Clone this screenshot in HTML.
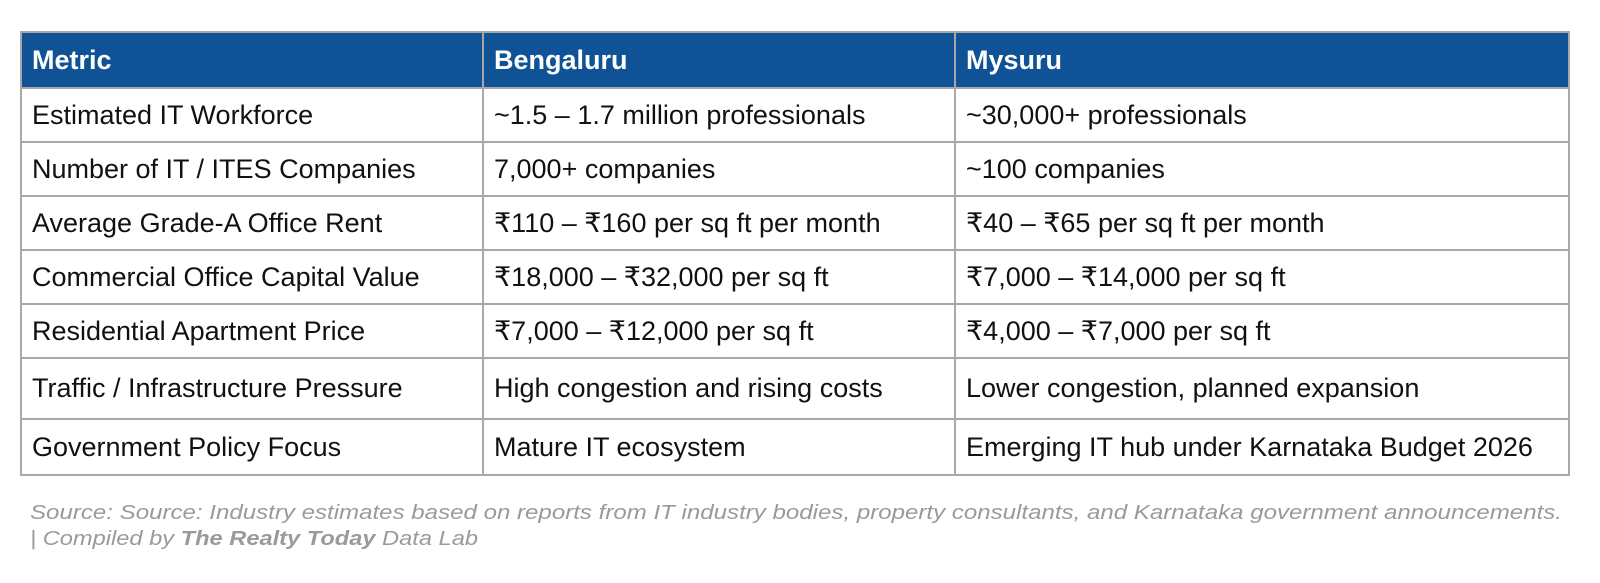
<!DOCTYPE html>
<html><head><meta charset="utf-8"><style>
html,body{margin:0;padding:0;background:#fff;width:1600px;height:583px;overflow:hidden}
table{position:absolute;left:20px;top:31px;border-collapse:collapse;font-family:"Liberation Sans",sans-serif;font-size:27px;color:#111}
td,th{border:2px solid #a8a8a8;padding:0 0 0 10px;text-align:left;vertical-align:middle;white-space:nowrap}
th{background:#0f5296;color:#fff;font-weight:bold;height:54px}
td{height:52px}
tr.tall td{height:59px}
tr.last td{height:54px}
</style></head><body>
<table>
<colgroup><col style="width:462px"><col style="width:472px"><col style="width:614px"></colgroup>
<tr><th>Metric</th><th>Bengaluru</th><th>Mysuru</th></tr>
<tr><td>Estimated IT Workforce</td><td>~1.5 – 1.7 million professionals</td><td>~30,000+ professionals</td></tr>
<tr><td>Number of IT / ITES Companies</td><td>7,000+ companies</td><td>~100 companies</td></tr>
<tr><td>Average Grade-A Office Rent</td><td>₹110 – ₹160 per sq ft per month</td><td>₹40 – ₹65 per sq ft per month</td></tr>
<tr><td>Commercial Office Capital Value</td><td>₹18,000 – ₹32,000 per sq ft</td><td>₹7,000 – ₹14,000 per sq ft</td></tr>
<tr><td>Residential Apartment Price</td><td>₹7,000 – ₹12,000 per sq ft</td><td>₹4,000 – ₹7,000 per sq ft</td></tr>
<tr class="tall"><td>Traffic / Infrastructure Pressure</td><td>High congestion and rising costs</td><td>Lower congestion, planned expansion</td></tr>
<tr class="last"><td>Government Policy Focus</td><td>Mature IT ecosystem</td><td>Emerging IT hub under Karnataka Budget 2026</td></tr>
</table>
<svg width="1600" height="583" style="position:absolute;left:0;top:0" xmlns="http://www.w3.org/2000/svg">
<g font-family="Liberation Sans, sans-serif" font-style="italic" font-size="20" fill="#9a9a9a">
<text x="30" y="519" textLength="1532" lengthAdjust="spacingAndGlyphs">Source: Source: Industry estimates based on reports from IT industry bodies, property consultants, and Karnataka government announcements.</text>
<text x="30" y="545" textLength="448" lengthAdjust="spacingAndGlyphs">| Compiled by <tspan font-weight="bold">The Realty Today</tspan> Data Lab</text>
</g>
</svg>
</body></html>
